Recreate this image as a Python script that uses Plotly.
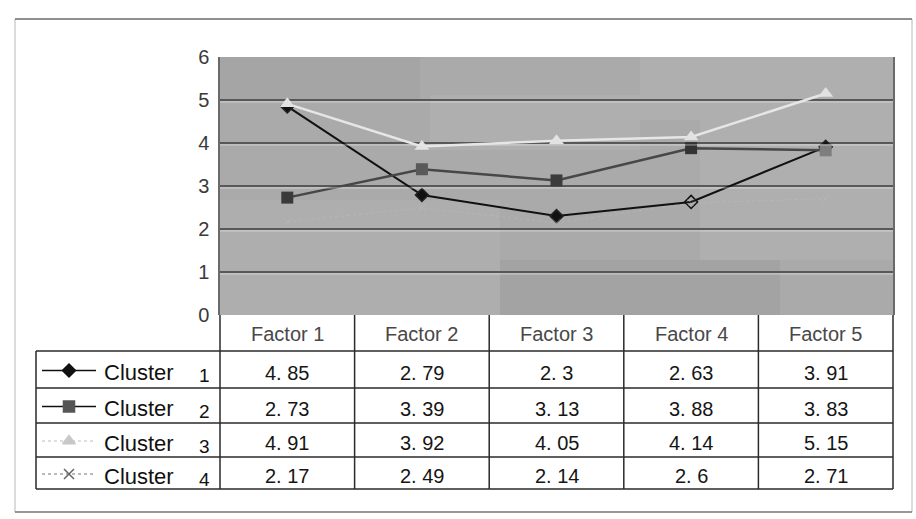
import plotly.graph_objects as go

# ---------------- data ----------------
factors = ["Factor 1", "Factor 2", "Factor 3", "Factor 4", "Factor 5"]
cluster_labels = ["Cluster", "Cluster", "Cluster", "Cluster"]
cluster_numbers = ["1", "2", "3", "4"]
cluster1 = [4.85, 2.79, 2.3, 2.63, 3.91]
cluster2 = [2.73, 3.39, 3.13, 3.88, 3.83]
cluster3 = [4.91, 3.92, 4.05, 4.14, 5.15]
cluster4 = [2.17, 2.49, 2.14, 2.6, 2.71]
y_ticks = [0, 1, 2, 3, 4, 5, 6]

series = [cluster1, cluster2, cluster3, cluster4]

# ---------------- geometry (pixels) ----------------
W, H = 916, 519
PL, PR, PT, PB = 220, 893, 57, 315
TL = 36
ROWS = [351, 388, 423, 457, 489]
FONT = "Arial, Liberation Sans, sans-serif"


def py(p):
    return 1 - p / H


def px(p):
    return p / W


def fmt(v):
    return str(v).replace(".", ". ")


fig = go.Figure()

# plot lines
styles = [
    dict(line=dict(color="#111111", width=2),
         marker=dict(symbol=["diamond", "diamond", "diamond", "diamond-open", "diamond"],
                     size=10, color="#111111", line=dict(color="#222222", width=1.5))),
    dict(line=dict(color="#474747", width=2.5),
         marker=dict(symbol="square", size=12,
                     color=["#3a3a3a", "#5a5a5a", "#3c3c3c", "#333333", "#7e7e7e"],
                     line=dict(width=0))),
    dict(line=dict(color="#e6e6e6", width=2.5),
         marker=dict(symbol="triangle-up", size=13, color="#e2e2e2", line=dict(width=0))),
    dict(line=dict(color="rgba(200,200,200,0.3)", width=1, dash="dot"),
         marker=dict(symbol="x-thin", size=8, color="rgba(200,200,200,0.25)",
                     line=dict(color="rgba(200,200,200,0.25)", width=1))),
]
for vals, st in zip(series, styles):
    fig.add_trace(go.Scatter(x=factors, y=vals, mode="lines+markers",
                             line=st["line"], marker=st["marker"],
                             showlegend=False, hoverinfo="skip",
                             xaxis="x", yaxis="y"))

# legend symbols in the table (pixel axes)
leg_styles = [
    dict(lc="#111111", ld="solid", lw=1.5, sym="diamond", mc="#111111", ms=10),
    dict(lc="#111111", ld="solid", lw=1.5, sym="square", mc="#555555", ms=11),
    dict(lc="#bdbdbd", ld="dot", lw=1.2, sym="triangle-up", mc="#c8c8c8", ms=11),
    dict(lc="#777777", ld="dot", lw=1.2, sym="x-thin", mc="#666666", ms=10),
]
for i, st in enumerate(leg_styles):
    yc = (ROWS[i] + ROWS[i + 1]) / 2 + 1
    fig.add_trace(go.Scatter(x=[42, 96], y=[yc, yc], mode="lines",
                             line=dict(color=st["lc"], dash=st["ld"], width=st["lw"]),
                             showlegend=False, hoverinfo="skip",
                             xaxis="x2", yaxis="y2"))
    fig.add_trace(go.Scatter(x=[69], y=[yc], mode="markers",
                             marker=dict(symbol=st["sym"], size=st["ms"], color=st["mc"],
                                         line=dict(color=st["mc"], width=1.5)),
                             showlegend=False, hoverinfo="skip",
                             xaxis="x2", yaxis="y2"))

shapes = []
# plot-area background with soft light/dark patches
shapes.append(dict(type="rect", xref="paper", yref="paper", x0=px(PL), x1=px(PR),
                   y0=py(PB), y1=py(PT), line=dict(width=0), fillcolor="#aaaaaa",
                   layer="below"))
patches = [
    (430, 640, 95, 150, "rgba(205,205,205,0.14)"),
    (640, 893, 57, 120, "rgba(205,205,205,0.16)"),
    (700, 893, 120, 260, "rgba(205,205,205,0.16)"),
    (220, 420, 57, 100, "rgba(130,130,130,0.12)"),
    (500, 780, 260, 315, "rgba(130,130,130,0.15)"),
    (220, 500, 200, 315, "rgba(200,200,200,0.14)"),
]
for x0, x1, y0, y1, c in patches:
    shapes.append(dict(type="rect", xref="paper", yref="paper", x0=px(x0), x1=px(x1),
                       y0=py(y1), y1=py(y0), line=dict(width=0), fillcolor=c,
                       layer="below"))

# outer chart frame
shapes.append(dict(type="rect", xref="paper", yref="paper", x0=px(15), x1=px(912),
                   y0=py(19), y1=py(512), line=dict(color="#b8b8b8", width=1)))
shapes.append(dict(type="line", xref="paper", yref="paper", x0=px(15), x1=px(912),
                   y0=py(19), y1=py(19), line=dict(color="#444444", width=1)))
shapes.append(dict(type="line", xref="paper", yref="paper", x0=px(15), x1=px(912),
                   y0=py(512), y1=py(512), line=dict(color="#555555", width=1)))

# gridline highlights
for t in y_ticks[1:-1]:
    shapes.append(dict(type="line", xref="paper", yref="y", x0=px(PL), x1=px(PR),
                       y0=t - 0.045, y1=t - 0.045,
                       line=dict(color="rgba(235,235,235,0.6)", width=1)))

# table lines
tc = "#2a2a2a"
for r in ROWS:
    shapes.append(dict(type="line", xref="paper", yref="paper", x0=px(TL), x1=px(PR),
                       y0=py(r), y1=py(r), line=dict(color=tc, width=1.5)))
shapes.append(dict(type="line", xref="paper", yref="paper", x0=px(TL), x1=px(TL),
                   y0=py(ROWS[0]), y1=py(ROWS[-1]), line=dict(color=tc, width=1.5)))
col_edges = [PL + i * (PR - PL) / len(factors) for i in range(len(factors) + 1)]
for e in col_edges:
    shapes.append(dict(type="line", xref="paper", yref="paper", x0=px(e), x1=px(e),
                       y0=py(PB), y1=py(ROWS[-1]), line=dict(color=tc, width=1.5)))

annotations = []
# header
for f in factors:
    annotations.append(dict(x=f, y=py((PB + ROWS[0]) / 2 + 1), xref="x", yref="paper",
                            text=f, showarrow=False, xanchor="center", yanchor="middle",
                            font=dict(family=FONT, size=20, color="#484848")))
# rows
for i, vals in enumerate(series):
    yc = (ROWS[i] + ROWS[i + 1]) / 2 + 3
    annotations.append(dict(x=px(102), y=py(yc), xref="paper", yref="paper",
                            text=cluster_labels[i], showarrow=False, xanchor="left",
                            yanchor="middle",
                            font=dict(family=FONT, size=22, color="#111111")))
    annotations.append(dict(x=px(204), y=py(yc + 3), xref="paper", yref="paper",
                            text=cluster_numbers[i], showarrow=False, xanchor="center",
                            yanchor="middle",
                            font=dict(family=FONT, size=19, color="#111111")))
    for f, v in zip(factors, vals):
        annotations.append(dict(x=f, y=py(yc), xref="x", yref="paper",
                                text=fmt(v), showarrow=False, xanchor="center",
                                yanchor="middle",
                                font=dict(family=FONT, size=20, color="#151515")))

fig.update_layout(
    width=W, height=H,
    margin=dict(l=0, r=0, t=0, b=0),
    paper_bgcolor="white",
    plot_bgcolor="rgba(0,0,0,0)",
    font=dict(family=FONT),
    xaxis=dict(domain=[px(PL), px(PR)], type="category", range=[-0.5, 4.5],
               showticklabels=False, showgrid=False, zeroline=False,
               showline=False, automargin=False, fixedrange=True),
    yaxis=dict(domain=[py(PB), py(PT)], range=[0, 6], tickvals=y_ticks,
               showgrid=True, gridcolor="#585858", gridwidth=1.5,
               zeroline=False, showline=True, linecolor="#6a6a6a", linewidth=1.5,
               mirror=True, ticks="", ticklabelstandoff=5,
               tickfont=dict(family=FONT, size=20, color="#3a3a3a"),
               automargin=False, fixedrange=True),
    xaxis2=dict(domain=[0, 1], range=[0, W], visible=False, anchor="y2", fixedrange=True),
    yaxis2=dict(domain=[0, 1], range=[H, 0], visible=False, anchor="x2", fixedrange=True),
    shapes=shapes,
    annotations=annotations,
)

fig.write_html("out.html")
